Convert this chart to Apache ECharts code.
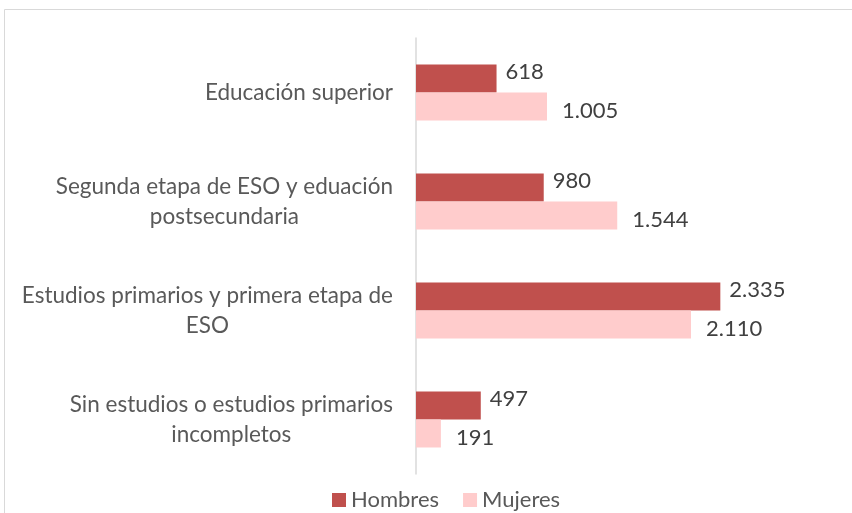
<!DOCTYPE html>
<html>
<head>
<meta charset="utf-8">
<script src="https://cdn.jsdelivr.net/npm/echarts@6/dist/echarts.min.js"></script>
<style>
  html, body { margin: 0; padding: 0; background: #fff; }
  #chart { width: 852px; height: 513px; }
</style>
</head>
<body>
<div id="chart"></div>
<script>
// categorias de arriba a abajo
var categorias = [
  'Educación superior',
  'Segunda etapa de ESO y eduación postsecundaria',
  'Estudios primarios y primera etapa de ESO',
  'Sin estudios o estudios primarios incompletos'
]
var hombres = [618, 980, 2335, 497]
var mujeres = [1005, 1544, 2110, 191]
var nombres = ['Hombres', 'Mujeres']

var fuente = 'Lato'
var tamCat = 22.5
var ctx = document.createElement('canvas').getContext('2d')
ctx.font = tamCat + 'px ' + fuente

// parte el texto en lineas que caben en el ancho
function partir(texto, ancho) {
  var palabras = texto.split(' ')
  var lineas = []
  var actual = ''
  palabras.forEach(function (p) {
    var prueba = actual ? actual + ' ' + p : p
    if (actual && ctx.measureText(prueba).width > ancho) {
      lineas.push(actual)
      actual = p
    } else {
      actual = prueba
    }
  })
  lineas.push(actual)
  return lineas
}

// 2335 -> 2.335
function numero(v) {
  return String(v).replace(/\B(?=(\d{3})+(?!\d))/g, '.')
}

var chart = echarts.init(document.getElementById('chart'))

var option = {
  animation: false,
  graphic: [
    {
      type: 'rect',
      silent: true,
      z: -1,
      shape: { x: 4.5, y: 9.5, width: 900, height: 600 },
      style: { fill: 'none', stroke: '#d9d9d9', lineWidth: 1 },
    },
  ],
  grid: {
    left: 416,
    right: 45,
    top: 38,
    bottom: 39,
    containLabel: false,
    outerBoundsMode: 'none',
  },
  legend: {
    data: nombres,
    left: 327,
    top: 484,
    icon: 'rect',
    itemWidth: 14,
    itemHeight: 14,
    itemGap: 24,
    textStyle: { color: '#595959', fontSize: 22, fontFamily: fuente },
  },
  xAxis: {
    type: 'value',
    min: 0,
    max: 3000,
    show: false,
  },
  yAxis: {
    type: 'category',
    inverse: true,
    data: categorias,
    axisLine: { lineStyle: { color: '#d9d9d9', width: 1.5 } },
    axisTick: { show: false },
    axisLabel: {
      margin: 23,
      align: 'right',
      lineHeight: 30,
      formatter: function (val) {
        return partir(val, 395)
          .map(function (l) { return '{c|' + l + '}' })
          .join('\n')
      },
      rich: {
        c: {
          align: 'center',
          fontSize: tamCat,
          lineHeight: 30,
          fontFamily: fuente,
          color: '#595959',
        },
      },
    },
  },
  series: [
    {
      name: nombres[0],
      type: 'bar',
      data: hombres,
      barWidth: 28,
      barGap: '0%',
      itemStyle: { color: '#C0504D' },
      label: {
        show: true,
        position: 'right',
        distance: 9,
        offset: [0, -7],
        color: '#404040',
        fontSize: 22,
        fontFamily: fuente,
        formatter: function (p) { return numero(p.value) },
      },
    },
    {
      name: nombres[1],
      type: 'bar',
      data: mujeres,
      barWidth: 28,
      barGap: '0%',
      itemStyle: { color: '#FFCCCC' },
      label: {
        show: true,
        position: 'right',
        distance: 15,
        offset: [0, 4],
        color: '#404040',
        fontSize: 22,
        fontFamily: fuente,
        formatter: function (p) { return numero(p.value) },
      },
    },
  ],
}

chart.setOption(option)
window.addEventListener('resize', function () {
  chart.resize()
})
</script>
</body>
</html>
